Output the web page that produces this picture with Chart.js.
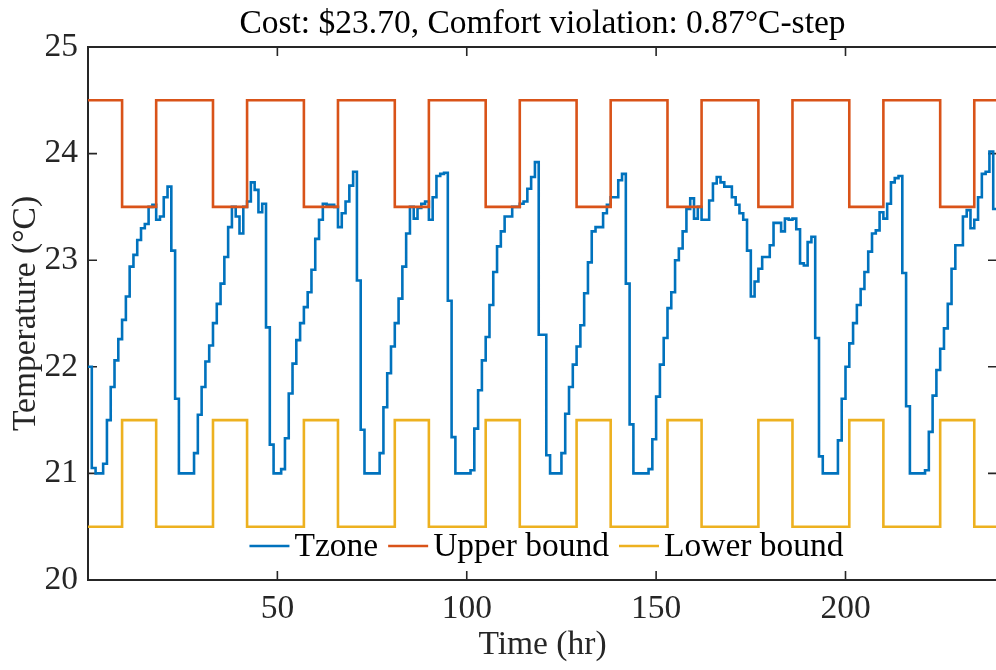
<!DOCTYPE html>
<html>
<head>
<meta charset="utf-8">
<script src="https://cdn.jsdelivr.net/npm/chart.js@4.4.0/dist/chart.umd.min.js"></script>
<style>
  html, body { margin: 0; padding: 0; background: #fff; overflow: hidden; }
  #wrap { width: 996px; height: 670px; overflow: hidden; }
</style>
</head>
<body>
<div id="wrap"><canvas id="chart" width="1000" height="670"></canvas></div>
<script>
// zone temperature, one value per hour (hour 0 .. 240)
const tzone = [
  22.0, 21.05, 21.0, 21.0, 21.09, 21.5, 21.81, 22.06, 22.26, 22.44,
  22.66, 22.94, 23.05, 23.19, 23.30, 23.34, 23.5, 23.52, 23.38, 23.41,
  23.59, 23.69, 23.09, 21.7, 21.0, 21.0, 21.0, 21.0, 21.19, 21.55,
  21.81, 22.05, 22.2, 22.41, 22.59, 22.78, 23.03, 23.31, 23.5, 23.41,
  23.25, 23.5, 23.55, 23.73, 23.66, 23.45, 23.53, 22.37, 21.27, 21.0,
  21.0, 21.04, 21.33, 21.75, 22.03, 22.25, 22.41, 22.56, 22.7, 22.91,
  23.2, 23.38, 23.53, 23.52, 23.52, 23.5, 23.31, 23.44, 23.55, 23.7,
  23.83, 22.81, 21.41, 21.0, 21.0, 21.0, 21.0, 21.19, 21.62, 21.94,
  22.19, 22.41, 22.64, 22.94, 23.25, 23.5, 23.39, 23.49, 23.53, 23.55,
  23.38, 23.59, 23.79, 23.81, 23.82, 22.62, 21.34, 21.0, 21.0, 21.0,
  21.0, 21.03, 21.42, 21.78, 22.06, 22.28, 22.58, 22.89, 23.13, 23.27,
  23.41, 23.41, 23.5, 23.5, 23.53, 23.55, 23.67, 23.78, 23.92, 22.3,
  22.3, 21.17, 21.0, 21.0, 21.0, 21.19, 21.56, 21.81, 22.02, 22.19,
  22.39, 22.69, 22.98, 23.27, 23.31, 23.31, 23.44, 23.52, 23.59, 23.59,
  23.75, 23.81, 22.78, 21.46, 21.0, 21.0, 21.0, 21.0, 21.04, 21.32,
  21.72, 22.02, 22.27, 22.55, 22.7, 23.0, 23.11, 23.27, 23.48, 23.58,
  23.39, 23.5, 23.38, 23.38, 23.56, 23.72, 23.78, 23.73, 23.69, 23.69,
  23.59, 23.52, 23.44, 23.38, 23.09, 22.66, 22.8, 22.92, 23.03, 23.03,
  23.14, 23.35, 23.35, 23.27, 23.39, 23.38, 23.39, 23.29, 22.97, 22.95,
  23.17, 23.22, 22.27, 21.16, 21.0, 21.0, 21.0, 21.0, 21.31, 21.7,
  22.0, 22.22, 22.41, 22.58, 22.73, 22.89, 23.08, 23.25, 23.28, 23.45,
  23.39, 23.53, 23.73, 23.77, 23.79, 22.88, 21.63, 21.0, 21.0, 21.0,
  21.0, 21.03, 21.39, 21.73, 21.97, 22.17, 22.36, 22.59, 22.92, 23.14,
  23.14, 23.41, 23.47, 23.3, 23.38, 23.59, 23.81, 23.83, 24.02, 23.48,
  23.48
];

// comfort bounds change at these hours (occupied 9:00-18:00)
const boundHours = [0, 9, 18, 33, 42, 57, 66, 81, 90, 105, 114, 129, 138, 153, 162, 177, 186, 201, 210, 225, 234, 240];
const upperBound = [24.5, 23.5, 24.5, 23.5, 24.5, 23.5, 24.5, 23.5, 24.5, 23.5, 24.5, 23.5, 24.5, 23.5, 24.5, 23.5, 24.5, 23.5, 24.5, 23.5, 24.5, 24.5];
const lowerBound = [20.5, 21.5, 20.5, 21.5, 20.5, 21.5, 20.5, 21.5, 20.5, 21.5, 20.5, 21.5, 20.5, 21.5, 20.5, 21.5, 20.5, 21.5, 20.5, 21.5, 20.5, 20.5];

const seriesNames = ["Tzone", "Upper bound", "Lower bound"];
const xTicks = [50, 100, 150, 200];
const yTicks = [20, 21, 22, 23, 24, 25];
const titleText = "Cost: $23.70, Comfort violation: 0.87\u00B0C-step";

const FONT = '"Liberation Serif", "Times New Roman", serif';
const FSIZE = 33.5;
const AXIS = "#262626";
const LW = 2.6;

// box around the axes + inward tick marks (matlab style)
const axesBox = {
  id: "axesBox",
  beforeDatasetsDraw(chart) {
    const { ctx, chartArea: a, scales: { x, y } } = chart;
    ctx.save();
    ctx.strokeStyle = AXIS;
    ctx.lineWidth = 1.6;
    ctx.beginPath();
    xTicks.forEach(v => {
      const px = x.getPixelForValue(v);
      ctx.moveTo(px, a.bottom); ctx.lineTo(px, a.bottom - 9);
      ctx.moveTo(px, a.top); ctx.lineTo(px, a.top + 9);
    });
    yTicks.forEach(v => {
      const py = y.getPixelForValue(v);
      ctx.moveTo(a.left, py); ctx.lineTo(a.left + 9, py);
      ctx.moveTo(a.right, py); ctx.lineTo(a.right - 9, py);
    });
    ctx.stroke();
    ctx.lineWidth = 2;
    ctx.strokeRect(a.left, a.top, a.right - a.left, a.bottom - a.top);
    ctx.restore();
  }
};

// horizontal legend inside the bottom of the axes, no box
const innerLegend = {
  id: "innerLegend",
  afterDraw(chart) {
    const { ctx, chartArea: a } = chart;
    const ds = chart.data.datasets;
    ctx.save();
    ctx.font = FSIZE + "px " + FONT;
    ctx.textBaseline = "middle";
    ctx.textAlign = "left";
    const lineLen = 40, gapText = 5, gapItem = 10;
    const widths = ds.map(d => lineLen + gapText + ctx.measureText(d.label).width);
    const total = widths.reduce((s, w) => s + w, 0) + gapItem * (ds.length - 1);
    let cx = (a.left + a.right) / 2 - total / 2 + 4;
    const cy = 546;
    ds.forEach((d, i) => {
      ctx.strokeStyle = d.borderColor;
      ctx.lineWidth = d.borderWidth;
      ctx.beginPath();
      ctx.moveTo(cx, cy); ctx.lineTo(cx + lineLen, cy);
      ctx.stroke();
      ctx.fillStyle = "#000";
      ctx.fillText(d.label, cx + lineLen + gapText, cy + 1);
      cx += widths[i] + gapItem;
    });
    ctx.restore();
  }
};

const font = { family: FONT, size: FSIZE, weight: "normal", lineHeight: 1.2 };

new Chart(document.getElementById("chart"), {
  type: "line",
  data: {
    datasets: [
      {
        label: seriesNames[0],
        data: tzone.map((v, i) => ({ x: i, y: v })),
        borderColor: "#0072BD",
        borderWidth: LW,
        stepped: true,
        pointRadius: 0,
        order: 3
      },
      {
        label: seriesNames[1],
        data: boundHours.map((h, i) => ({ x: h, y: upperBound[i] })),
        borderColor: "#D95319",
        borderWidth: LW,
        stepped: true,
        pointRadius: 0,
        order: 2
      },
      {
        label: seriesNames[2],
        data: boundHours.map((h, i) => ({ x: h, y: lowerBound[i] })),
        borderColor: "#EDB120",
        borderWidth: LW,
        stepped: true,
        pointRadius: 0,
        order: 1
      }
    ]
  },
  options: {
    responsive: false,
    animation: false,
    devicePixelRatio: 1,
    layout: { padding: { left: 0, right: 3, top: 0, bottom: 0 } },
    plugins: {
      legend: { display: false },
      tooltip: { enabled: false },
      title: {
        display: true,
        fullSize: false,
        text: titleText,
        color: "#000",
        font: font,
        padding: { top: 4, bottom: 2.8 }
      }
    },
    scales: {
      x: {
        type: "linear",
        min: 0,
        max: 240,
        afterFit: s => { s.height = 90; },
        afterBuildTicks: s => { s.ticks = xTicks.map(v => ({ value: v })); },
        grid: { display: false, drawTicks: false },
        border: { display: false },
        ticks: { color: AXIS, padding: 9.4, maxRotation: 0, autoSkip: false, font: font },
        title: {
          display: true,
          text: "Time (hr)",
          color: AXIS,
          padding: { top: 0, bottom: 5 },
          font: font
        }
      },
      y: {
        min: 20,
        max: 25,
        afterFit: s => { s.width = 88; },
        afterBuildTicks: s => { s.ticks = yTicks.map(v => ({ value: v })); },
        grid: { display: false, drawTicks: false },
        border: { display: false },
        ticks: { color: AXIS, padding: 10, font: font },
        title: {
          display: true,
          text: "Temperature (\u00B0C)",
          color: AXIS,
          padding: { top: 6, bottom: 0 },
          font: font
        }
      }
    }
  },
  plugins: [axesBox, innerLegend]
});
</script>
</body>
</html>
